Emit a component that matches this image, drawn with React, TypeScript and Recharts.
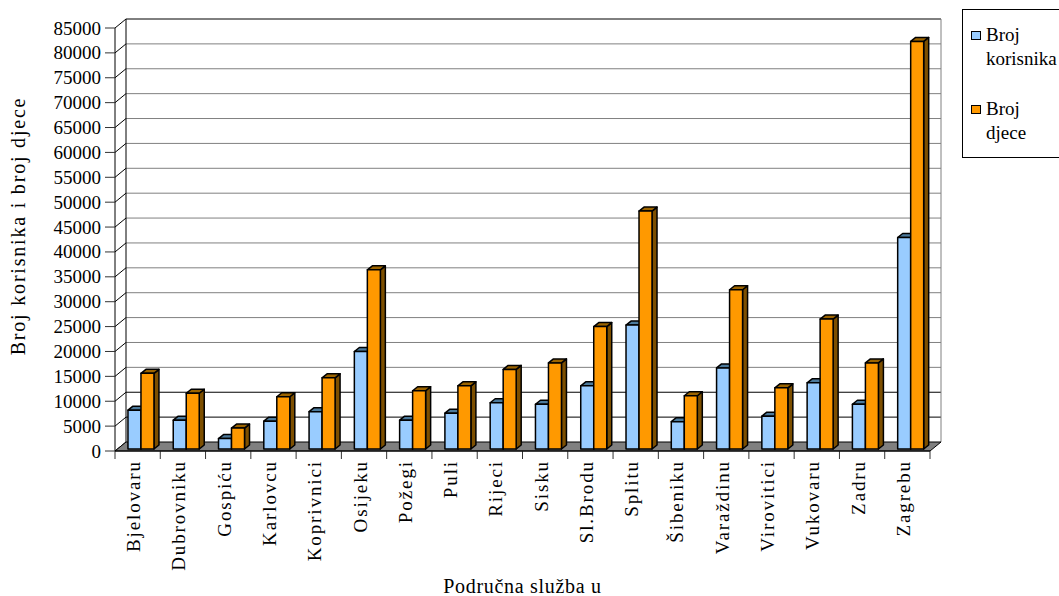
import * as RC from 'recharts';
import { BarChart, Bar, XAxis, YAxis, Legend } from 'recharts';

const categories = [
  'Bjelovaru', 'Dubrovniku', 'Gospiću', 'Karlovcu', 'Koprivnici', 'Osijeku',
  'Požegi', 'Puli', 'Rijeci', 'Sisku', 'Sl.Brodu', 'Splitu',
  'Šibeniku', 'Varaždinu', 'Virovitici', 'Vukovaru', 'Zadru', 'Zagrebu',
];
const brojKorisnika = [
  7800, 5800, 2100, 5600, 7500, 19600, 5800, 7200, 9300, 9000, 12700, 24900,
  5500, 16300, 6600, 13300, 9000, 42500,
];
const brojDjece = [
  15200, 11200, 4200, 10500, 14300, 36000, 11700, 12700, 16000, 17300, 24600, 47800,
  10700, 32000, 12300, 26100, 17300, 81900,
];
const yTicks = [
  0, 5000, 10000, 15000, 20000, 25000, 30000, 35000, 40000, 45000,
  50000, 55000, 60000, 65000, 70000, 75000, 80000, 85000,
];
const Y_MAX = 85000;
const seriesOrder = ['korisnika', 'djece'];

const data = categories.map((name, i) => ({
  name,
  korisnika: brojKorisnika[i],
  djece: brojDjece[i],
}));

const FONT = "'Liberation Serif', 'Times New Roman', serif";
// 3d look: back wall offset and bar depth
const DX = 11;
const DY = 9;
const BAR_DX = 5;
const BAR_DY = 4;

function usePlot() {
  const lib = RC as any;
  const hook = lib.usePlotArea ?? lib.useOffset;
  const a = hook ? hook() : null;
  if (a && a.width) {
    return { left: a.x ?? a.left, top: a.y ?? a.top, width: a.width, height: a.height };
  }
  return { left: 115, top: 28, width: 815, height: 423 };
}

// back wall, side wall lines, floor, category ticks and axis titles
const Frame = () => {
  const { left, top, width, height } = usePlot();
  const right = left + width;
  const bottom = top + height;
  const yOf = (v: number) => top + height * (1 - v / Y_MAX);
  const step = width / categories.length;

  return (
    <g>
      <rect x={left + DX} y={top - DY} width={width} height={height} fill="#fff" />
      {yTicks.map((v) => {
        const y = yOf(v);
        const dark = v === 5000 || v === 10000 || v === Y_MAX;
        return (
          <g key={v}>
            {v > 0 && (
              <line x1={left + DX} y1={y - DY} x2={right + DX} y2={y - DY}
                stroke={dark ? '#000' : '#808080'} strokeWidth={1} />
            )}
            <line x1={left} y1={y} x2={left + DX} y2={y - DY} stroke="#000" strokeWidth={1} />
          </g>
        );
      })}
      <line x1={left + DX} y1={top - DY} x2={left + DX} y2={bottom - DY} stroke="#000" />
      <line x1={right + DX} y1={top - DY} x2={right + DX} y2={bottom - DY} stroke="#808080" />
      <polygon
        points={`${left},${bottom} ${right},${bottom} ${right + DX},${bottom - DY} ${left + DX},${bottom - DY}`}
        fill="#808080" stroke="#000" strokeWidth={1}
      />
      {categories.map((c, i) => (
        <line key={c} x1={left + i * step} y1={bottom} x2={left + i * step} y2={bottom + 8} stroke="#333" />
      ))}
      <line x1={right} y1={bottom} x2={right} y2={bottom + 8} stroke="#333" />
      <text x={25} y={226} transform="rotate(-90 25 226)" textAnchor="middle" stroke="none"
        style={{ fontFamily: FONT, fontSize: 20, letterSpacing: 1.8 }} fill="#000">
        Broj korisnika i broj djece
      </text>
      <text x={left + width / 2} y={593} textAnchor="middle" stroke="none"
        style={{ fontFamily: FONT, fontSize: 20, letterSpacing: 0.7 }} fill="#000">
        Područna služba u
      </text>
    </g>
  );
};

const Bar3D = (p: any) => {
  const x = p.x + 3;
  const y = p.y - 2;
  const w = p.width;
  const h = p.height;
  if (!h || h <= 0) return null;
  const top = `${x},${y} ${x + BAR_DX},${y - BAR_DY} ${x + w + BAR_DX},${y - BAR_DY} ${x + w},${y}`;
  const side = `${x + w},${y} ${x + w + BAR_DX},${y - BAR_DY} ${x + w + BAR_DX},${y + h - BAR_DY} ${x + w},${y + h}`;
  return (
    <g stroke="#000" strokeWidth={1.5} strokeLinejoin="round">
      <polygon points={side} fill={p.sideColor} />
      <polygon points={top} fill={p.topColor} />
      <rect x={x} y={y} width={w} height={h} fill={p.fill} />
    </g>
  );
};

const CategoryTick = (p: any) => {
  const x = p.x;
  const y = p.y;
  return (
    <text x={x} y={y} dy={2.5} transform={`rotate(-90 ${x} ${y})`} textAnchor="end" stroke="none"
      style={{ fontFamily: FONT, fontSize: 19, letterSpacing: 1.9 }} fill="#000">
      {p.payload.value}
    </text>
  );
};

const ValueTick = (p: any) => (
  <text x={p.x} y={p.y} dy={6.5} textAnchor="end" stroke="none"
    style={{ fontFamily: FONT, fontSize: 19 }} fill="#000">
    {p.payload.value}
  </text>
);

const LegendBox = (props: any) => {
  const items = [...(props.payload ?? [])].sort(
    (a: any, b: any) => seriesOrder.indexOf(a.dataKey) - seriesOrder.indexOf(b.dataKey),
  );
  return (
    <div style={{
      width: 110, height: 149, border: '1px solid #000', borderRight: 'none', boxSizing: 'border-box',
      paddingTop: 13, fontFamily: FONT, fontSize: 19, lineHeight: '24px', color: '#000',
      background: '#fff',
    }}>
      {items.map((it: any, i: number) => (
        <div key={i} style={{ display: 'flex', alignItems: 'flex-start', marginBottom: 26 }}>
          <span style={{
            display: 'inline-block', width: 8, height: 7, marginLeft: 8, marginTop: 8,
            border: '1.5px solid #000', background: it.color, flexShrink: 0,
          }} />
          <span style={{ marginLeft: 5, width: 73, flexShrink: 0 }}>{it.value}</span>
        </div>
      ))}
    </div>
  );
};

export default function App() {
  return (
    <div style={{ position: 'absolute', left: 0, top: 0, background: '#fff' }}>
      <BarChart
        width={1059}
        height={596}
        data={data}
        margin={{ top: 28, right: 129, bottom: 15, left: 0 }}
        barGap={0}
        barCategoryGap="22%"
      >
        <Frame />
        <XAxis
          dataKey="name"
          interval={0}
          height={130}
          tickLine={false}
          tickSize={0}
          tickMargin={9}
          axisLine={{ stroke: '#000' }}
          tick={<CategoryTick />}
        />
        <YAxis
          width={115}
          domain={[0, Y_MAX]}
          ticks={yTicks}
          interval={0}
          tickSize={10}
          tickMargin={4}
          axisLine={{ stroke: '#000' }}
          tickLine={{ stroke: '#333' }}
          tick={<ValueTick />}
        />
        <Legend
          layout="vertical"
          align="center"
          verticalAlign="middle"
          wrapperStyle={{ left: 962, top: 9, width: 110 }}
          content={<LegendBox />}
        />
        <Bar dataKey="korisnika" name="Broj korisnika" fill="#99CCFF" isAnimationActive={false}
          shape={(p: any) => <Bar3D {...p} topColor="#4C7A9C" sideColor="#3D6280" />} />
        <Bar dataKey="djece" name="Broj djece" fill="#FF9900" isAnimationActive={false}
          shape={(p: any) => <Bar3D {...p} topColor="#9C6400" sideColor="#7D4F00" />} />
      </BarChart>
    </div>
  );
}
